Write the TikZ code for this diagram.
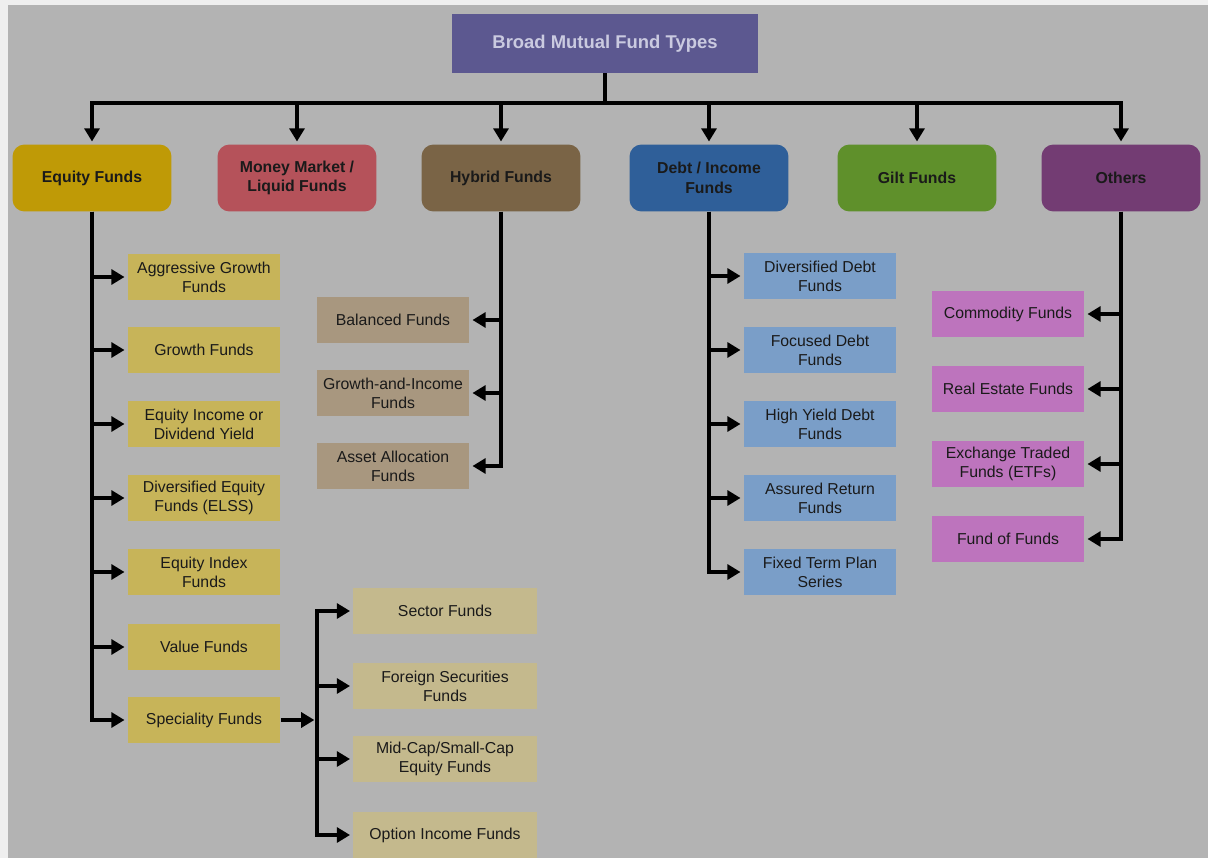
\documentclass[tikz,border=0pt]{standalone}
\usepackage{fontspec}
\setmainfont{Liberation Sans}
\usepackage{tikz}
\usetikzlibrary{arrows.meta}
\definecolor{pagebg}{HTML}{B3B3B3}
\definecolor{pageedge}{HTML}{EFEFEF}
\definecolor{titlefill}{HTML}{5C5890}
\definecolor{titletext}{HTML}{CACAE0}
\definecolor{equitycol}{HTML}{BF9A06}
\definecolor{moneycol}{HTML}{B5525A}
\definecolor{hybridcol}{HTML}{7A6446}
\definecolor{debtcol}{HTML}{2F5F99}
\definecolor{giltcol}{HTML}{5F902B}
\definecolor{otherscol}{HTML}{733C73}
\definecolor{equityleaf}{HTML}{C7B459}
\definecolor{specleaf}{HTML}{C4B98D}
\definecolor{hybridleaf}{HTML}{A8977F}
\definecolor{debtleaf}{HTML}{7A9EC8}
\definecolor{othersleaf}{HTML}{BD74BD}
\definecolor{inktext}{HTML}{1A1A1A}
\tikzset{
  head/.style={rectangle,rounded corners=0.24cm,fill=#1,text=inktext,align=center,
    minimum width=3.18cm,minimum height=1.34cm,inner sep=1pt,
    font=\fontsize{9}{11}\selectfont\bfseries},
  leaf/.style={rectangle,fill=#1,text=inktext,align=center,
    minimum width=3.06cm,minimum height=0.93cm,inner sep=1pt,
    font=\fontsize{9}{10.8}\selectfont},
  wideleaf/.style={leaf=#1,minimum width=3.68cm},
  arr/.style={line width=2.3pt,shorten >=1.5pt,-{Triangle[length=7.5pt,width=8.5pt]}}
}

\begin{document}
\begin{tikzpicture}[x=0.02cm,y=-0.02cm]
    \useasboundingbox (0,0) rectangle (1208,858);
    \fill [pageedge] (0,0) rectangle (1208,858);
    \fill [pagebg] (8,5) rectangle (1208,858);

    \node [rectangle,fill=titlefill,text=titletext,minimum width=6.12cm,minimum height=1.18cm,
      font=\fontsize{10.5}{12}\selectfont\bfseries] (title) at (605,43.5) {Broad Mutual Fund Types};

    \node [head=equitycol] (equity) at (92,178) {Equity Funds};
    \node [head=moneycol] (money) at (297,178) {Money Market /\\Liquid Funds};
    \node [head=hybridcol] (hybrid) at (501,178) {Hybrid Funds};
    \node [head=debtcol] (debt) at (709,178) {Debt / Income\\Funds};
    \node [head=giltcol] (gilt) at (917,178) {Gilt Funds};
    \node [head=otherscol] (others) at (1121,178) {Others};

    \coordinate (bar) at (605,103);
    \draw [arr] (title.south) -- (bar) -| (equity.north);
    \draw [arr] (bar) -| (money.north);
    \draw [arr] (bar) -| (hybrid.north);
    \draw [arr] (bar) -| (debt.north);
    \draw [arr] (bar) -| (gilt.north);
    \draw [arr] (bar) -| (others.north);

    \node [leaf=equityleaf] (aggr) at (204,277) {Aggressive Growth\\Funds};
    \node [leaf=equityleaf] (growth) at (204,350) {Growth Funds};
    \node [leaf=equityleaf] (eqincome) at (204,424) {Equity Income or\\Dividend Yield};
    \node [leaf=equityleaf] (diversified) at (204,498) {Diversified Equity\\Funds (ELSS)};
    \node [leaf=equityleaf] (eqindex) at (204,572) {Equity Index\\Funds};
    \node [leaf=equityleaf] (value) at (204,647) {Value Funds};
    \node [leaf=equityleaf] (speciality) at (204,720) {Speciality Funds};

    \draw [arr] (equity.south) |- (aggr.west);
    \draw [arr] (equity.south) |- (growth.west);
    \draw [arr] (equity.south) |- (eqincome.west);
    \draw [arr] (equity.south) |- (diversified.west);
    \draw [arr] (equity.south) |- (eqindex.west);
    \draw [arr] (equity.south) |- (value.west);
    \draw [arr] (equity.south) |- (speciality.west);

    \node [wideleaf=specleaf] (sector) at (445,611) {Sector Funds};
    \node [wideleaf=specleaf] (foreign) at (445,686) {Foreign Securities\\Funds};
    \node [wideleaf=specleaf] (midcap) at (445,759) {Mid-Cap/Small-Cap\\Equity Funds};
    \node [wideleaf=specleaf] (option) at (445,835) {Option Income Funds};

    \coordinate (spechub) at (317,720);
    \draw [arr] (speciality.east) -- (spechub);
    \draw [arr] (spechub) |- (sector.west);
    \draw [arr] (spechub) |- (foreign.west);
    \draw [arr] (spechub) |- (midcap.west);
    \draw [arr] (spechub) |- (option.west);

    \node [leaf=hybridleaf] (balanced) at (393,320) {Balanced Funds};
    \node [leaf=hybridleaf] (growthincome) at (393,393) {Growth-and-Income\\Funds};
    \node [leaf=hybridleaf] (assetalloc) at (393,466) {Asset Allocation\\Funds};

    \draw [arr] (hybrid.south) |- (balanced.east);
    \draw [arr] (hybrid.south) |- (growthincome.east);
    \draw [arr] (hybrid.south) |- (assetalloc.east);

    \node [leaf=debtleaf] (divdebt) at (820,276) {Diversified Debt\\Funds};
    \node [leaf=debtleaf] (focdebt) at (820,350) {Focused Debt\\Funds};
    \node [leaf=debtleaf] (highyield) at (820,424) {High Yield Debt\\Funds};
    \node [leaf=debtleaf] (assured) at (820,498) {Assured Return\\Funds};
    \node [leaf=debtleaf] (fixedterm) at (820,572) {Fixed Term Plan\\Series};

    \draw [arr] (debt.south) |- (divdebt.west);
    \draw [arr] (debt.south) |- (focdebt.west);
    \draw [arr] (debt.south) |- (highyield.west);
    \draw [arr] (debt.south) |- (assured.west);
    \draw [arr] (debt.south) |- (fixedterm.west);

    \node [leaf=othersleaf] (commodity) at (1008,314) {Commodity Funds};
    \node [leaf=othersleaf] (realestate) at (1008,389) {Real Estate Funds};
    \node [leaf=othersleaf] (etf) at (1008,464) {Exchange Traded\\Funds (ETFs)};
    \node [leaf=othersleaf] (fof) at (1008,539) {Fund of Funds};

    \draw [arr] (others.south) |- (commodity.east);
    \draw [arr] (others.south) |- (realestate.east);
    \draw [arr] (others.south) |- (etf.east);
    \draw [arr] (others.south) |- (fof.east);
\end{tikzpicture}
\end{document}
